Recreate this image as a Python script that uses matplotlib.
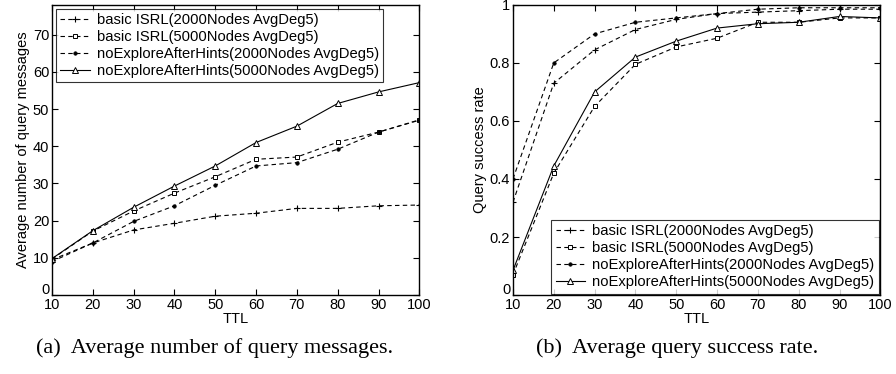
import numpy as np
import matplotlib
matplotlib.use('Agg')
import matplotlib.pyplot as plt
from matplotlib.transforms import ScaledTranslation

plt.rcParams['font.family'] = ['Liberation Sans', 'DejaVu Sans']

# data
ttl = [10, 20, 30, 40, 50, 60, 70, 80, 90, 100]
labels = ['basic ISRL(2000Nodes AvgDeg5)',
          'basic ISRL(5000Nodes AvgDeg5)',
          'noExploreAfterHints(2000Nodes AvgDeg5)',
          'noExploreAfterHints(5000Nodes AvgDeg5)']

msg_basic_2000 = [9.5, 14.0, 17.5, 19.3, 21.2, 22.0, 23.3, 23.3, 24.0, 24.2]
msg_basic_5000 = [9.7, 17.2, 22.6, 27.4, 31.8, 36.5, 37.1, 41.1, 43.8, 47.1]
msg_noexp_2000 = [9.0, 14.0, 19.8, 24.0, 29.5, 34.7, 35.6, 39.2, 43.8, 47.0]
msg_noexp_5000 = [9.8, 17.3, 23.6, 29.3, 34.7, 41.0, 45.4, 51.5, 54.6, 57.1]

rate_basic_2000 = [0.32, 0.73, 0.845, 0.915, 0.95, 0.97, 0.975, 0.98, 0.985, 0.985]
rate_basic_5000 = [0.07, 0.42, 0.65, 0.795, 0.855, 0.885, 0.94, 0.94, 0.955, 0.955]
rate_noexp_2000 = [0.40, 0.80, 0.90, 0.94, 0.955, 0.97, 0.985, 0.99, 0.99, 0.99]
rate_noexp_5000 = [0.085, 0.445, 0.70, 0.82, 0.875, 0.92, 0.935, 0.94, 0.96, 0.955]

styles = [dict(ls=(0, (4, 3)), marker='+', ms=5, mew=0.8),
          dict(ls=(0, (4, 3)), marker='s', ms=3.5, mfc='white', mew=0.7),
          dict(ls=(0, (4, 3)), marker='o', ms=2.5, mew=0.5),
          dict(ls='-', marker='^', ms=5, mfc='white', mew=0.7)]

fig = plt.figure(figsize=(8.96, 3.74), dpi=100)
ax0 = fig.add_axes([0.058, 0.211, 0.410, 0.776])
ax1 = fig.add_axes([0.5725, 0.211, 0.410, 0.776])


def style_axes(ax):
    ax.tick_params(direction='in', top=True, right=True, labelsize=10.5,
                   length=4, width=0.8, pad=2)
    for s in ax.spines.values():
        s.set_linewidth(1.0)
    ax.set_xlim(10, 100)
    ax.set_xticks(ttl)
    ax.set_xlabel('TTL', fontsize=10.5, labelpad=0)


def make_legend(ax, loc, pad):
    leg = ax.legend(loc=loc, fontsize=10.6, frameon=True, fancybox=False,
                    edgecolor='black', borderaxespad=pad, handlelength=2.0,
                    handletextpad=0.5, borderpad=0.3, labelspacing=0.2,
                    numpoints=1)
    leg.get_frame().set_linewidth(0.8)
    return leg


def lift_zero(ax):
    # the "0" label sits a bit higher than the axis, above the "10"
    lab = ax.get_yticklabels()[0]
    lab.set_transform(lab.get_transform() + ScaledTranslation(0, 5 / 72, fig.dpi_scale_trans))


for ys, lab, st in zip([msg_basic_2000, msg_basic_5000, msg_noexp_2000, msg_noexp_5000], labels, styles):
    ax0.plot(ttl, ys, color='black', lw=0.8, label=lab, **st)
style_axes(ax0)
ax0.set_ylim(0, 78)
ax0.set_yticks([0, 10, 20, 30, 40, 50, 60, 70])
ax0.set_ylabel('Average number of query messages', fontsize=10.5, labelpad=2)
make_legend(ax0, 'upper left', 0.25)
lift_zero(ax0)

for ys, lab, st in zip([rate_basic_2000, rate_basic_5000, rate_noexp_2000, rate_noexp_5000], labels, styles):
    ax1.plot(ttl, ys, color='black', lw=0.8, label=lab, **st)
style_axes(ax1)
ax1.set_ylim(0, 1)
ax1.set_yticks([0, 0.2, 0.4, 0.6, 0.8, 1])
ax1.set_yticklabels(['0', '0.2', '0.4', '0.6', '0.8', '1'])
ax1.set_ylabel('Query success rate', fontsize=10.5, labelpad=2)
make_legend(ax1, 'lower right', 0.1)
lift_zero(ax1)

serif = ['Liberation Serif', 'DejaVu Serif']
fig.text(0.24, 0.07, '(a)  Average number of query messages.', ha='center',
         va='center', fontsize=16, family=serif)
fig.text(0.756, 0.07, '(b)  Average query success rate.', ha='center',
         va='center', fontsize=16, family=serif)

fig.savefig('out.png', dpi=100)
